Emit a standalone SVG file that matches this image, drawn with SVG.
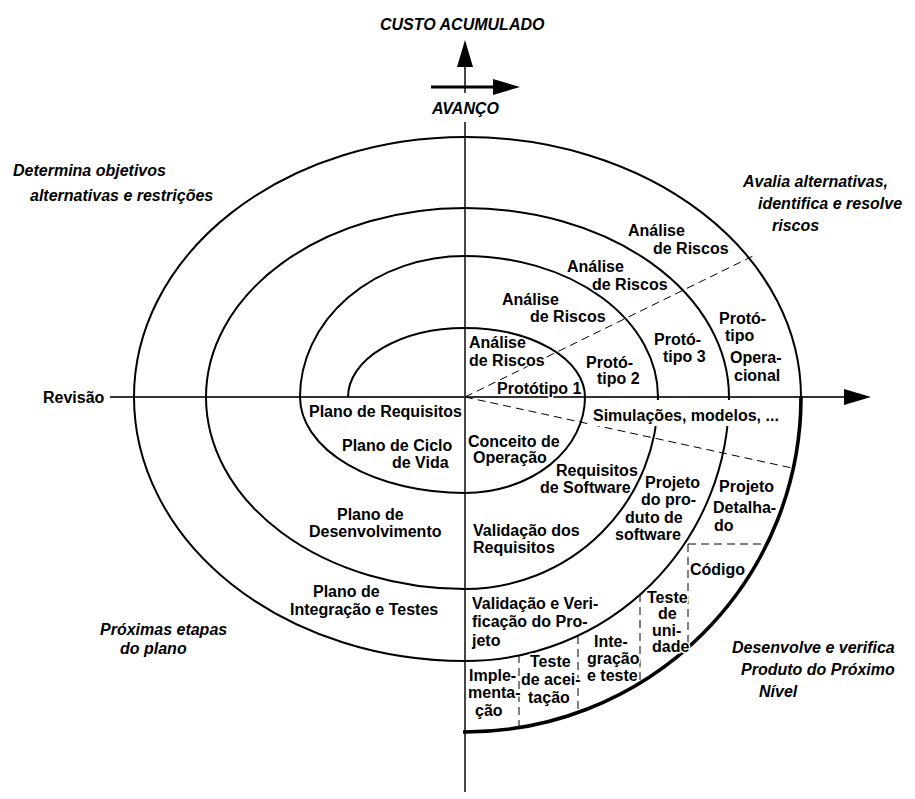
<svg xmlns="http://www.w3.org/2000/svg" width="915" height="799" viewBox="0 0 915 799">
<style>
.t{font-family:"Liberation Sans",Arial,sans-serif;font-weight:bold;font-size:16px;fill:#000;stroke:#fff;stroke-width:3px;paint-order:stroke;stroke-linejoin:round}
.i{font-style:italic}
.ax{stroke:#333;stroke-width:1.8;fill:none}
.sp{stroke:#000;stroke-width:2;fill:none}
.thick{stroke:#000;stroke-width:3.6;fill:none}
.ds{stroke:#000;stroke-width:1;fill:none;stroke-dasharray:8 5}
</style>
<rect width="915" height="799" fill="#fff"/>

<g id="connectors">
  <!-- axes -->
  <line class="ax" x1="465" y1="66" x2="465" y2="93"/>
  <line class="ax" x1="465" y1="122" x2="465" y2="792"/>
  <polygon points="457,67 465,40 473,67" fill="#000"/>
  <line x1="431" y1="87" x2="495" y2="87" stroke="#000" stroke-width="3"/>
  <polygon points="493,79 520,87 493,95" fill="#000"/>
  <line class="ax" x1="110" y1="397" x2="846" y2="397"/>
  <polygon points="844,389 871,397 844,405" fill="#000"/>

  <!-- dashed sector lines -->
  <line class="ds" x1="465" y1="397" x2="753" y2="256"/>
  <line class="ds" x1="465" y1="397" x2="792" y2="468"/>

  <!-- spiral -->
  <path class="sp" d="M348 397 A117 69 0 0 1 465 328 A120 69 0 0 1 585 397 A120 96 0 0 1 465 493 A165 96 0 0 1 300 397 A165 141 0 0 1 465 256 A193 141 0 0 1 658 397 A193 192 0 0 1 465 589 A259 192 0 0 1 206 397 A259 189 0 0 1 465 208 A264 189 0 0 1 729 397 A264 264 0 0 1 465 661 A331 264 0 0 1 134 397 A331 260 0 0 1 465 137 A336 260 0 0 1 801 397"/>
  <path class="thick" d="M801 396 A336 335 0 0 1 463 732"/>

  <!-- dashed boxes of development quadrant -->
  <line class="ds" x1="688" y1="544" x2="766" y2="544"/>
  <line class="ds" x1="688" y1="544" x2="688" y2="648"/>
  <line class="ds" x1="640" y1="594" x2="640" y2="683"/>
  <line class="ds" x1="578" y1="636" x2="578" y2="712"/>
  <line class="ds" x1="519" y1="655" x2="519" y2="728"/>
</g>

<g id="quadrant-labels">
  <text class="t i" x="380" y="30">CUSTO ACUMULADO</text>
  <text class="t i" x="432" y="114">AVANÇO</text>
  <text class="t i" x="13" y="176">Determina objetivos</text>
  <text class="t i" x="30" y="201">alternativas e restrições</text>
  <text class="t i" x="743" y="187">Avalia alternativas,</text>
  <text class="t i" x="758" y="209">identifica e resolve</text>
  <text class="t i" x="772" y="231">riscos</text>
  <text class="t i" x="100" y="635">Próximas etapas</text>
  <text class="t i" x="120" y="654">do plano</text>
  <text class="t i" x="732" y="653">Desenvolve e verifica</text>
  <text class="t i" x="741" y="675">Produto do Próximo</text>
  <text class="t i" x="759" y="697">Nível</text>
  <text class="t" x="43" y="403">Revisão</text>
</g>

<g id="risk-analysis">
  <text class="t" x="469" y="348">Análise</text>
  <text class="t" x="469" y="366">de Riscos</text>
  <text class="t" x="502" y="305">Análise</text>
  <text class="t" x="530" y="322">de Riscos</text>
  <text class="t" x="567" y="272">Análise</text>
  <text class="t" x="592" y="290">de Riscos</text>
  <text class="t" x="628" y="236">Análise</text>
  <text class="t" x="653" y="254">de Riscos</text>
</g>

<g id="prototypes">
  <text class="t" x="497" y="394">Protótipo 1</text>
  <text class="t" x="586" y="368">Protó-</text>
  <text class="t" x="597" y="384">tipo 2</text>
  <text class="t" x="654" y="345">Protó-</text>
  <text class="t" x="663" y="362">tipo 3</text>
  <text class="t" x="719" y="324">Protó-</text>
  <text class="t" x="725" y="341">tipo</text>
  <text class="t" x="730" y="363">Opera-</text>
  <text class="t" x="734" y="381">cional</text>
</g>

<g id="simulations">
  <rect x="589" y="400" width="200" height="26" fill="#fff"/>
  <text class="t" x="593" y="421">Simulações, modelos, ...</text>
</g>

<g id="plans">
  <text class="t" x="309" y="417">Plano de Requisitos</text>
  <text class="t" x="342" y="451">Plano de Ciclo</text>
  <text class="t" x="392" y="468">de Vida</text>
  <text class="t" x="337" y="520">Plano de</text>
  <text class="t" x="309" y="537">Desenvolvimento</text>
  <text class="t" x="313" y="597">Plano de</text>
  <text class="t" x="290" y="615">Integração e Testes</text>
</g>

<g id="development">
  <text class="t" x="468" y="447">Conceito de</text>
  <text class="t" x="473" y="463">Operação</text>
  <text class="t" x="556" y="476">Requisitos</text>
  <text class="t" x="540" y="493">de Software</text>
  <text class="t" x="473" y="536">Validação dos</text>
  <text class="t" x="473" y="553">Requisitos</text>
  <text class="t" x="645" y="488">Projeto</text>
  <text class="t" x="641" y="505">do pro-</text>
  <text class="t" x="625" y="523">duto de</text>
  <text class="t" x="615" y="540">software</text>
  <text class="t" x="719" y="492">Projeto</text>
  <text class="t" x="713" y="513">Detalha-</text>
  <text class="t" x="714" y="531">do</text>
  <text class="t" x="690" y="575">Código</text>
  <text class="t" x="472" y="609">Validação e Veri-</text>
  <text class="t" x="472" y="627">ficação do Pro-</text>
  <text class="t" x="472" y="646">jeto</text>
  <text class="t" x="469" y="681">Imple-</text>
  <text class="t" x="468" y="698">menta-</text>
  <text class="t" x="475" y="716">ção</text>
  <text class="t" x="530" y="667">Teste</text>
  <text class="t" x="521" y="685">de acei-</text>
  <text class="t" x="528" y="703">tação</text>
  <text class="t" x="594" y="647">Inte-</text>
  <text class="t" x="587" y="664">gração</text>
  <text class="t" x="587" y="681">e teste</text>
  <text class="t" x="647" y="603">Teste</text>
  <text class="t" x="658" y="619">de</text>
  <text class="t" x="652" y="636">uni-</text>
  <text class="t" x="652" y="652">dade</text>
</g>
</svg>
